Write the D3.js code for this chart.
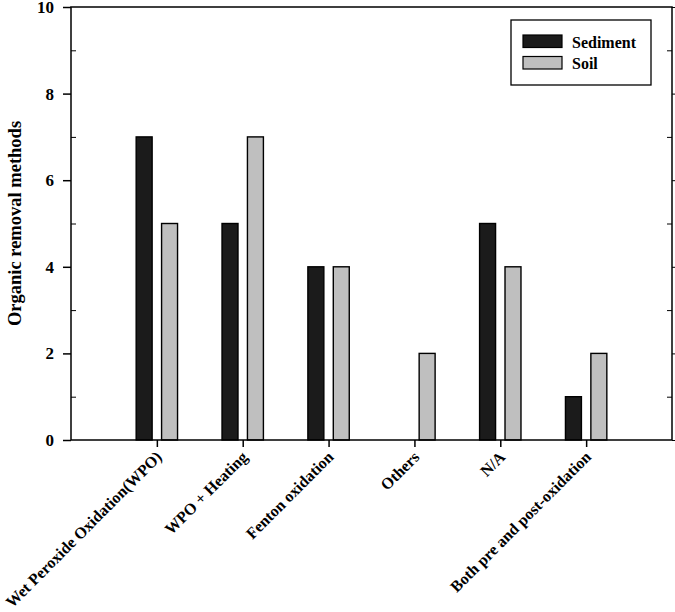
<!DOCTYPE html>
<html><head><meta charset="utf-8">
<script src="https://cdn.jsdelivr.net/npm/d3@7"></script>
<style>body{margin:0;background:#fff}svg{display:block}text{font-family:"Liberation Serif","Times New Roman",serif;font-weight:bold;fill:#000}</style>
</head><body><svg id="c" width="675" height="612"></svg>
<script>
const categories = ["Wet Peroxide Oxidation(WPO)","WPO + Heating","Fenton oxidation","Others","N/A","Both pre and post-oxidation"];
const sediment = [7,5,4,0,5,1];
const soil = [5,7,4,2,4,2];
const seriesNames = ["Sediment","Soil"];
const yTicks = [0,2,4,6,8,10];
const yMinor = [1,3,5,7,9];

const svg = d3.select("#c");
const L=71,R=672,T=7,B=440;
const x = d3.scaleLinear().domain([0,7]).range([L,R]);
const y = d3.scaleLinear().domain([0,10]).range([B,T]);
const colors = {Sediment:"#1b1b1b", Soil:"#bfbfbf"};
const bw = 0.186, off = 0.148;

const series = [
  {name:"Sediment", vals:sediment, dx:-off},
  {name:"Soil", vals:soil, dx:off}
];
series.forEach(s=>{
  svg.append("g").selectAll("rect").data(s.vals.map((v,i)=>({v,i}))).join("rect")
    .filter(d=>d.v>0)
    .attr("x",d=>x(d.i+1+s.dx-bw/2))
    .attr("width",x(bw)-x(0))
    .attr("y",d=>y(d.v))
    .attr("height",d=>y(0)-y(d.v))
    .attr("fill",colors[s.name]).attr("stroke","#000").attr("stroke-width",1.4);
});

// frame
svg.append("rect").attr("x",L).attr("y",T).attr("width",R-L).attr("height",B-T)
  .attr("fill","none").attr("stroke","#000").attr("stroke-width",1.5);

// left axis major (outward)
const yAx = svg.append("g").attr("transform",`translate(${L},0)`)
  .call(d3.axisLeft(y).tickValues(yTicks).tickSize(8).tickPadding(9).tickFormat(d3.format("d")));
yAx.select(".domain").remove();
yAx.selectAll("line").attr("stroke-width",1.5);
yAx.selectAll("text").style("font-size","17px").attr("font-family",null);
// left minor (inward)
svg.append("g").attr("transform",`translate(${L},0)`)
  .call(d3.axisRight(y).tickValues(yMinor).tickSize(5).tickFormat(""))
  .call(g=>g.select(".domain").remove());
// right minor inward, major outward
svg.append("g").attr("transform",`translate(${R},0)`)
  .call(d3.axisLeft(y).tickValues(yMinor).tickSize(5).tickFormat(""))
  .call(g=>g.select(".domain").remove());
svg.append("g").attr("transform",`translate(${R},0)`)
  .call(d3.axisRight(y).tickValues(yTicks).tickSize(8).tickFormat(""))
  .call(g=>g.select(".domain").remove());

// x axis
const xAx = svg.append("g").attr("transform",`translate(0,${B})`)
  .call(d3.axisBottom(x).tickValues(d3.range(1,categories.length+1)).tickSize(7).tickFormat(""));
xAx.select(".domain").remove();
xAx.selectAll("line").attr("stroke-width",1.5);

svg.append("g").selectAll("text").data(categories).join("text")
  .attr("transform",(d,i)=>`translate(${x(i+1)+6},${B+18}) rotate(-45)`)
  .attr("text-anchor","end")
  .style("font-size","16px")
  .text(d=>d);

// y label
svg.append("text").attr("transform",`translate(21,${(T+B)/2}) rotate(-90)`)
  .attr("text-anchor","middle").style("font-size","18.5px").text("Organic removal methods");

// legend
const lg = svg.append("g");
lg.append("rect").attr("x",511).attr("y",20).attr("width",140).attr("height",65)
  .attr("fill","#fff").attr("stroke","#000").attr("stroke-width",1.3);
seriesNames.forEach((n,i)=>{
  lg.append("rect").attr("x",523).attr("y",35+i*21.5).attr("width",39).attr("height",12.5)
    .attr("fill",colors[n]).attr("stroke","#000").attr("stroke-width",1.2);
  lg.append("text").attr("x",572).attr("y",47.5+i*21.5).style("font-size","16px").text(n);
});
</script></body></html>
